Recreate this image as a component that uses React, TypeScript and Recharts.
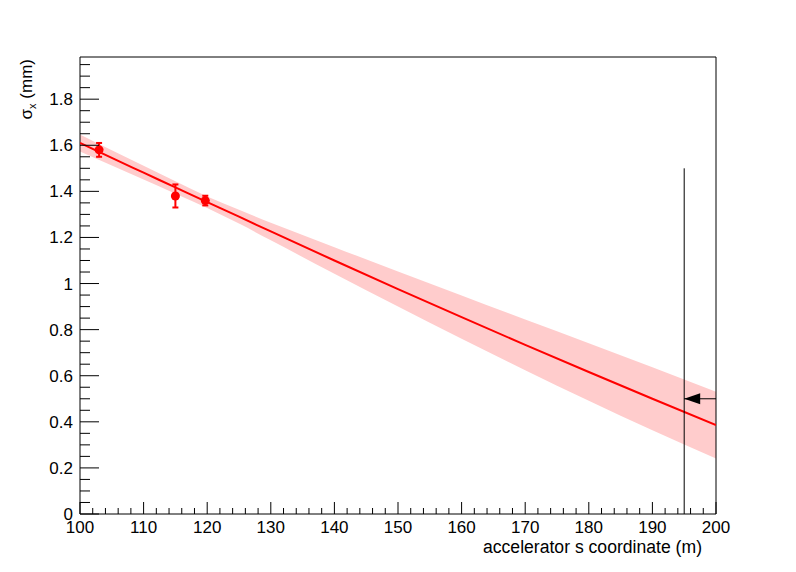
import {
  ComposedChart,
  XAxis,
  YAxis,
  Area,
  Line,
  Scatter,
  ErrorBar,
  ReferenceArea,
  ReferenceLine,
  ReferenceDot,
} from 'recharts'

// fit curve (beam size vs s) and its error band
const fitS = [100, 105, 110, 115, 120, 125, 130, 140, 150, 160, 170, 180, 190, 200]
const fitMean = [1.61, 1.545, 1.481, 1.417, 1.353, 1.29, 1.226, 1.1, 0.976, 0.854, 0.734, 0.616, 0.5, 0.386]
const fitLow = [1.573, 1.512, 1.451, 1.39, 1.328, 1.26, 1.188, 1.042, 0.9, 0.76, 0.624, 0.491, 0.363, 0.241]
const fitHigh = [1.647, 1.578, 1.511, 1.444, 1.378, 1.32, 1.264, 1.158, 1.052, 0.948, 0.844, 0.741, 0.637, 0.531]

// measured points
const measS = [103, 115, 119.7]
const measSigma = [1.58, 1.38, 1.36]
const measErr = [0.03, 0.05, 0.021]

// marker at the end of the line
const markerS = 195
const markerTop = 1.5
const arrowS = [200, 195]
const arrowSigma = 0.5

const xMajor = [100, 110, 120, 130, 140, 150, 160, 170, 180, 190, 200]
const yMajor = [0, 0.2, 0.4, 0.6, 0.8, 1, 1.2, 1.4, 1.6, 1.8]
const yMax = 1.983

const xTicks = Array.from({ length: 51 }, (_, i) => 100 + i * 2)
const yTicks = Array.from({ length: 40 }, (_, i) => Math.round(i * 5) / 100)

const fitData = fitS.map((s, i) => ({
  s,
  mean: fitMean[i],
  band: [fitLow[i], fitHigh[i]],
}))

const pointData = measS.map((s, i) => ({ s, y: measSigma[i], err: measErr[i] }))

const font = '"Liberation Sans", Arial, Helvetica, sans-serif'

const isMajor = (v: number, list: number[]) => list.some((m) => Math.abs(m - v) < 1e-6)

const renderXTick = (props: any) => {
  const { x, y, payload } = props
  const major = isMajor(payload.value, xMajor)
  return (
    <g key={`xt-${payload.value}`}>
      <line x1={x} x2={x} y1={y} y2={y - (major ? 12 : 6)} stroke="#000" />
      {major && (
        <text x={x} y={y + 19} textAnchor="middle" fontSize={17} fontFamily={font} fill="#000">
          {payload.value}
        </text>
      )}
    </g>
  )
}

const renderYTick = (props: any) => {
  const { x, y, payload } = props
  const major = isMajor(payload.value, yMajor)
  return (
    <g key={`yt-${payload.value}`}>
      <line x1={x} x2={x + (major ? 19 : 10)} y1={y} y2={y} stroke="#000" />
      {major && (
        <text x={x - 7} y={y + 6} textAnchor="end" fontSize={17} fontFamily={font} fill="#000">
          {String(Number(payload.value.toFixed(2)))}
        </text>
      )}
    </g>
  )
}

const ArrowHead = (props: any) => {
  const { cx, cy } = props
  return <polygon points={`${cx},${cy} ${cx + 16},${cy - 5.5} ${cx + 16},${cy + 5.5}`} fill="#000" />
}

const Dot = (props: any) => <circle cx={props.cx} cy={props.cy} r={4.5} fill="#ff0000" />

export default function App() {
  return (
    <div style={{ position: 'absolute', left: 0, top: 0, width: 796, height: 572, background: '#fff' }}>
      <ComposedChart
        width={796}
        height={572}
        data={fitData}
        margin={{ top: 57, right: 80, bottom: 28, left: 40 }}
      >
        <XAxis
          dataKey="s"
          type="number"
          domain={[100, 200]}
          ticks={xTicks}
          interval={0}
          height={30}
          tickSize={0}
          tickMargin={0}
          tick={renderXTick}
          axisLine={false}
          allowDataOverflow
        />
        <YAxis
          type="number"
          domain={[0, yMax]}
          ticks={yTicks}
          interval={0}
          width={40}
          tickSize={0}
          tickMargin={0}
          tick={renderYTick}
          axisLine={false}
          allowDataOverflow
        />
        <Area
          dataKey="band"
          type="monotone"
          fill="#ffcccc"
          fillOpacity={1}
          stroke="none"
          isAnimationActive={false}
        />
        <Line
          dataKey="mean"
          type="monotone"
          stroke="#ff0000"
          strokeWidth={2}
          dot={false}
          isAnimationActive={false}
        />
        <Scatter data={pointData} dataKey="y" shape={Dot} isAnimationActive={false}>
          <ErrorBar dataKey="err" direction="y" width={3} stroke="#ff0000" strokeWidth={2} />
        </Scatter>
        <ReferenceLine
          segment={[{ x: markerS, y: 0 }, { x: markerS, y: markerTop }]}
          stroke="#000"
          strokeWidth={1}
        />
        <ReferenceLine
          segment={[{ x: arrowS[0], y: arrowSigma }, { x: arrowS[1], y: arrowSigma }]}
          stroke="#000"
          strokeWidth={1}
        />
        <ReferenceDot x={arrowS[1]} y={arrowSigma} shape={ArrowHead} />
        <ReferenceArea x1={100} x2={200} y1={0} y2={yMax} fill="none" stroke="#000" strokeWidth={1} />
        <text
          x={702}
          y={553}
          textAnchor="end"
          fontSize={17.6}
          fontFamily={font}
          fill="#000"
        >
          accelerator s coordinate (m)
        </text>
        <text
          transform="translate(32, 59) rotate(-90)"
          textAnchor="end"
          fontSize={17}
          fontFamily={font}
          fill="#000"
        >
          σ
          <tspan dy={4} fontSize={11}>x</tspan>
          <tspan dy={-4}> (mm)</tspan>
        </text>
      </ComposedChart>
    </div>
  )
}
